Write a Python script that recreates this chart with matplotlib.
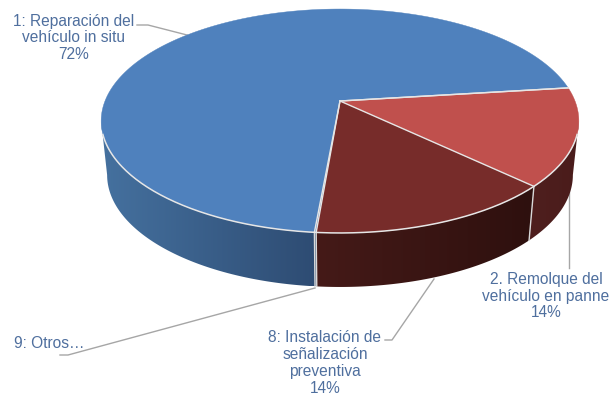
import numpy as np
import matplotlib
matplotlib.use('Agg')
import matplotlib.pyplot as plt
from matplotlib.colors import LinearSegmentedColormap
from matplotlib.patches import Polygon

# slices, counter clockwise from the start angle
names = ['1: Reparación del\nvehículo in situ', '9: Otros…',
         '8: Instalación de\nseñalización\npreventiva', '2. Remolque del\nvehículo en panne']
values = [71.6, 0.1, 14.2, 14.1]
shown_pct = ['72%', '', '14%', '14%']
top_colors = ['#4F81BD', '#4F81BD', '#772C2A', '#C0504D']
side_start = ['#45719F', '#2E4C73', '#451A18', '#4F1F1E']
side_end = ['#2E4C73', '#2E4C73', '#2E100E', '#4A1C1B']

start_angle = 7.1
cx, cy = 340, 101
R, S, k = 235, 108.4, 0.1786
depth, shrink = 54, 0.975


def project(theta):
    # circle to screen, with a little perspective
    w = 1 / (1 + k * np.sin(theta))
    return cx + R * np.cos(theta) * w, cy - S * np.sin(theta) * w


def project_bottom(theta):
    x, y = project(theta)
    return cx + (x - cx) * shrink, y + depth


fig = plt.figure(figsize=(6.14, 4.01), dpi=100)
ax = fig.add_axes([0, 0, 1, 1])
ax.axis('off')

edges = start_angle + np.cumsum([0] + values) / sum(values) * 360

# the wall only shows between the two tangent points of the rim
wall_from = np.pi + np.arcsin(k)
wall_to = 2 * np.pi - np.arcsin(k)

# side wall first, the tops go over it
for i in range(len(values)):
    a0 = max(np.radians(edges[i]), wall_from)
    a1 = min(np.radians(edges[i + 1]), wall_to)
    if a1 <= a0:
        continue
    t = np.linspace(a0, a1, 200)
    xt, yt = project(t)
    xb, yb = project_bottom(t)
    wall = np.c_[np.r_[xt, xb[::-1]], np.r_[yt, yb[::-1]]]
    cmap = LinearSegmentedColormap.from_list('wall', [side_start[i], side_end[i]])
    x0, x1 = wall[:, 0].min(), wall[:, 0].max()
    y0, y1 = wall[:, 1].min(), wall[:, 1].max()
    # left to right gradient, the wall outline clips it
    im = ax.imshow(np.linspace(0, 1, 256)[None, :], cmap=cmap, aspect='auto',
                   extent=(x0, x1, y1, y0), zorder=1, interpolation='bilinear')
    clip = Polygon(wall, closed=True, transform=ax.transData, facecolor='none', edgecolor='none')
    ax.add_patch(clip)
    im.set_clip_path(clip)

# seams on the side wall
for e in edges:
    a = np.radians(e)
    if np.sin(a) < 0:
        xt, yt = project(a)
        xb, yb = project_bottom(a)
        ax.plot([xt, xb], [yt, yb], color='#D9D9D9', lw=1, zorder=2)

# tops
for i in range(len(values)):
    t = np.radians(np.linspace(edges[i], edges[i + 1], 200))
    x, y = project(t)
    ax.fill(np.r_[cx, x], np.r_[cy, y], facecolor=top_colors[i], edgecolor=top_colors[i],
            lw=0.3, zorder=3)

# light edge along the spokes and the front rim
for e in edges:
    x, y = project(np.radians(e))
    ax.plot([cx, x], [cy, y], color='#E6E6E6', lw=1, zorder=4)
rx, ry = project(np.radians(np.linspace(197, 343, 200)))
ax.plot(rx, ry, color='#E6E6E6', lw=1.1, zorder=4)

# leader lines
leaders = [([137, 148, 187], [25, 25, 35]),
           ([569, 569], [178, 268]),
           ([434, 392, 385], [279, 340, 340]),
           ([315, 68, 60], [288, 355, 355])]
for lx, ly in leaders:
    ax.plot(lx, ly, color='#A6A6A6', lw=1, zorder=0)

# labels
label_pos = [(74, 38), (49, 343), (325, 363), (546, 296)]
for name, pct, pos in zip(names, shown_pct, label_pos):
    txt = name + '\n' + pct if pct else name
    ax.text(pos[0], pos[1], txt, ha='center', va='center', multialignment='center',
            family='Liberation Sans', fontsize=11.2, color='#4F6F9E', linespacing=1.15, zorder=5)

ax.set_xlim(0, 614)
ax.set_ylim(401, 0)
fig.savefig('out.png', dpi=100, facecolor='white')
